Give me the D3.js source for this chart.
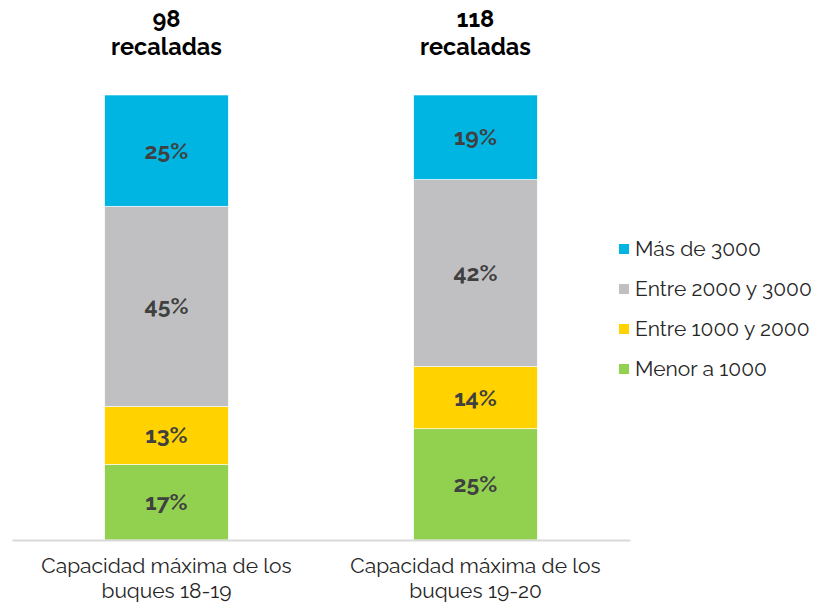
<!DOCTYPE html>
<html>
<head>
<meta charset="utf-8">
<script src="https://cdn.jsdelivr.net/npm/d3@7"></script>
<style>
  body { margin: 0; background: #fff; }
  text { font-family: "Raleway", "Lato", "Open Sans", sans-serif; }
</style>
</head>
<body>
<div id="chart"></div>
<script>
// chart data
let categories = ["Capacidad máxima de los|buques 18-19", "Capacidad máxima de los|buques 19-20"];
let totals = ["98", "118"];
let seriesNames = ["Menor a 1000", "Entre 1000 y 2000", "Entre 2000 y 3000", "Más de 3000"];
let seriesColors = ["#92d050", "#ffd200", "#c0c0c2", "#00b5e2"];
let menor1000 = [17, 25];
let entre1000_2000 = [13, 14];
let entre2000_3000 = [45, 42];
let mas3000 = [25, 19];

let width = 819, height = 602;

let svg = d3.select("#chart")
  .append("svg")
  .attr("width", width)
  .attr("height", height);

// build rows for the stack
let rows = categories.map(function (c, i) {
  return {
    cat: c,
    "Menor a 1000": menor1000[i],
    "Entre 1000 y 2000": entre1000_2000[i],
    "Entre 2000 y 3000": entre2000_3000[i],
    "Más de 3000": mas3000[i]
  };
});

let stacked = d3.stack().keys(seriesNames)(rows);

let x = d3.scaleBand()
  .domain(categories)
  .range([12, 630])
  .paddingInner(0.6)
  .paddingOuter(0.3);

let y = d3.scaleLinear()
  .domain([0, 100])
  .range([540, 95]);

let color = d3.scaleOrdinal().domain(seriesNames).range(seriesColors);

// bars
let groups = svg.selectAll(".serie")
  .data(stacked)
  .enter()
  .append("g")
  .attr("fill", function (d) { return color(d.key); });

groups.selectAll("rect")
  .data(function (d) { return d; })
  .enter()
  .append("rect")
  .attr("x", function (d) { return x(d.data.cat); })
  .attr("y", function (d) { return y(d[1]); })
  .attr("width", x.bandwidth())
  .attr("height", function (d) { return y(d[0]) - y(d[1]); })
  .attr("stroke", "#fff")
  .attr("stroke-width", 0.6);

// percentage labels
groups.selectAll("text")
  .data(function (d) { return d; })
  .enter()
  .append("text")
  .attr("x", function (d) { return x(d.data.cat) + x.bandwidth() / 2; })
  .attr("y", function (d) { return (y(d[0]) + y(d[1])) / 2; })
  .attr("dy", "0.35em")
  .attr("text-anchor", "middle")
  .attr("fill", "#404040")
  .style("font-size", "23px")
  .style("font-weight", "bold")
  .text(function (d) { return (d[1] - d[0]) + "%"; });

// baseline axis
let axis = svg.append("g")
  .attr("transform", "translate(0,540)")
  .call(d3.axisBottom(x).tickSize(0).tickFormat(""));
axis.select(".domain").attr("stroke", "#d9d9d9").attr("stroke-width", 2);

// category labels, two lines each
categories.forEach(function (c) {
  let parts = c.split("|");
  let t = svg.append("text")
    .attr("text-anchor", "middle")
    .attr("fill", "#262626")
    .style("font-size", "21px");
  parts.forEach(function (p, j) {
    t.append("tspan")
      .attr("x", x(c) + x.bandwidth() / 2)
      .attr("y", 573 + j * 25)
      .text(p);
  });
});

// totals above bars
categories.forEach(function (c, i) {
  let t = svg.append("text")
    .attr("text-anchor", "middle")
    .attr("fill", "#000")
    .style("font-size", "23.5px")
    .style("font-weight", "bold");
  t.append("tspan").attr("x", x(c) + x.bandwidth() / 2).attr("y", 27).text(totals[i]);
  t.append("tspan").attr("x", x(c) + x.bandwidth() / 2).attr("y", 55).text("recaladas");
});

// legend (top series first)
let legendKeys = seriesNames.slice().reverse();
let legend = svg.selectAll(".legend")
  .data(legendKeys)
  .enter()
  .append("g")
  .attr("transform", function (d, i) { return "translate(619," + (249 + i * 40) + ")"; });

legend.append("rect")
  .attr("x", 0)
  .attr("y", -5)
  .attr("width", 10)
  .attr("height", 10)
  .attr("fill", function (d) { return color(d); });

legend.append("text")
  .attr("x", 16)
  .attr("y", 0)
  .attr("dy", "0.35em")
  .attr("fill", "#262626")
  .style("font-size", "21px")
  .text(function (d) { return d; });
</script>
</body>
</html>
